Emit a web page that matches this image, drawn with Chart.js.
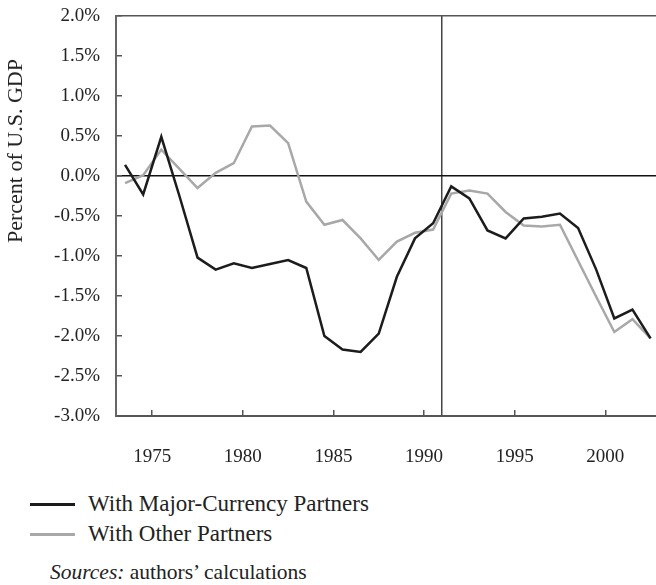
<!DOCTYPE html>
<html>
<head>
<meta charset="utf-8">
<script src="https://cdn.jsdelivr.net/npm/chart.js@4.4.1/dist/chart.umd.min.js"></script>
<style>
  body { margin: 0; background: #fff; font-family: "Liberation Serif", serif; color: #222; }
  #wrap { position: relative; width: 656px; height: 585px; overflow: hidden; }
  #chart { position: absolute; left: 0; top: 0; }
  #ytitle { position: absolute; left: 15px; top: 151px; transform: translate(-50%, -50%) rotate(-90deg); white-space: nowrap; font-size: 22px; }
  #legend { position: absolute; left: 30px; top: 489px; font-size: 23px; }
  .item { display: flex; align-items: center; height: 30px; }
  .swatch { width: 45px; height: 3px; margin-right: 13px; }
  #source { position: absolute; left: 50px; top: 560px; font-size: 21.5px; }
</style>
</head>
<body>
<div id="wrap">
  <canvas id="chart" width="656" height="480"></canvas>
  <div id="ytitle">Percent of U.S. GDP</div>
  <div id="legend"></div>
  <div id="source"><i>Sources:</i> authors’ calculations</div>
</div>
<script>
const years = [1973, 1974, 1975, 1976, 1977, 1978, 1979, 1980, 1981, 1982,
  1983, 1984, 1985, 1986, 1987, 1988, 1989, 1990, 1991, 1992,
  1993, 1994, 1995, 1996, 1997, 1998, 1999, 2000, 2001, 2002];

// percent of U.S. GDP
const majorPartners = [0.14, -0.23, 0.49, -0.25, -1.02, -1.17, -1.09, -1.15, -1.10, -1.05,
  -1.15, -2.00, -2.17, -2.20, -1.97, -1.26, -0.78, -0.59, -0.13, -0.28,
  -0.68, -0.78, -0.53, -0.51, -0.47, -0.65, -1.17, -1.78, -1.67, -2.03];
const otherPartners = [-0.09, 0.01, 0.33, 0.09, -0.15, 0.04, 0.16, 0.62, 0.63, 0.41,
  -0.32, -0.61, -0.55, -0.78, -1.05, -0.82, -0.71, -0.67, -0.22, -0.18,
  -0.22, -0.45, -0.62, -0.63, -0.61, -1.06, -1.51, -1.95, -1.79, -2.03];

const tickYears = [1975, 1980, 1985, 1990, 1995, 2000];
const markerYear = 1991;

const seriesNames = ['With Major-Currency Partners', 'With Other Partners'];
const seriesColors = ['#1c1c1c', '#a8a8a8'];

// each annual value sits in the middle of its year
const toPoints = vals => years.map((yr, i) => ({ x: yr + 0.5, y: vals[i] }));

const chart = new Chart(document.getElementById('chart'), {
  type: 'line',
  data: {
    datasets: [
      { label: seriesNames[0], data: toPoints(majorPartners), borderColor: seriesColors[0], backgroundColor: seriesColors[0], borderWidth: 2.5, pointRadius: 0, tension: 0 },
      { label: seriesNames[1], data: toPoints(otherPartners), borderColor: seriesColors[1], backgroundColor: seriesColors[1], borderWidth: 2.5, pointRadius: 0, tension: 0 }
    ]
  },
  options: {
    responsive: false,
    animation: false,
    layout: { padding: 0 },
    plugins: { legend: { display: false }, tooltip: { enabled: false } },
    scales: {
      x: {
        type: 'linear',
        min: 1973,
        max: 2002.8,
        afterBuildTicks: scale => {
          scale.ticks = [...tickYears, markerYear].sort((a, b) => a - b).map(v => ({ value: v }));
        },
        afterFit: scale => {
          scale.height = 64;
          scale.paddingLeft = 0;
          scale.paddingRight = 0;
        },
        ticks: {
          autoSkip: false,
          maxRotation: 0,
          padding: 36,
          color: '#222',
          font: { family: 'Liberation Serif', size: 19 },
          callback: v => v === markerYear ? '' : String(v)
        },
        grid: {
          drawOnChartArea: true,
          tickLength: -6,
          lineWidth: 1.5,
          color: ctx => ctx.tick && ctx.tick.value === markerYear ? '#444' : 'rgba(0,0,0,0)',
          tickColor: ctx => ctx.tick && ctx.tick.value === markerYear ? 'rgba(0,0,0,0)' : '#555'
        },
        border: { display: true, color: '#555', width: 2 }
      },
      y: {
        min: -3,
        max: 2,
        afterFit: scale => {
          scale.width = 116;
          scale.paddingTop = 16;
          scale.paddingBottom = 0;
        },
        ticks: {
          stepSize: 0.5,
          padding: 22,
          color: '#222',
          font: { family: 'Liberation Serif', size: 19 },
          callback: v => v.toFixed(1) + '%'
        },
        grid: {
          tickLength: -6,
          lineWidth: 1.5,
          color: ctx => {
            if (!ctx.tick) return 'rgba(0,0,0,0)';
            if (ctx.tick.value === 0) return '#111';
            if (ctx.tick.value === 2) return '#555';
            return 'rgba(0,0,0,0)';
          },
          tickColor: '#555'
        },
        border: { display: true, color: '#666', width: 2 }
      }
    }
  }
});

const legend = document.getElementById('legend');
chart.data.datasets.forEach(ds => {
  const row = document.createElement('div');
  row.className = 'item';
  row.innerHTML = `<span class="swatch" style="background:${ds.borderColor}"></span><span>${ds.label}</span>`;
  legend.appendChild(row);
});
</script>
</body>
</html>
